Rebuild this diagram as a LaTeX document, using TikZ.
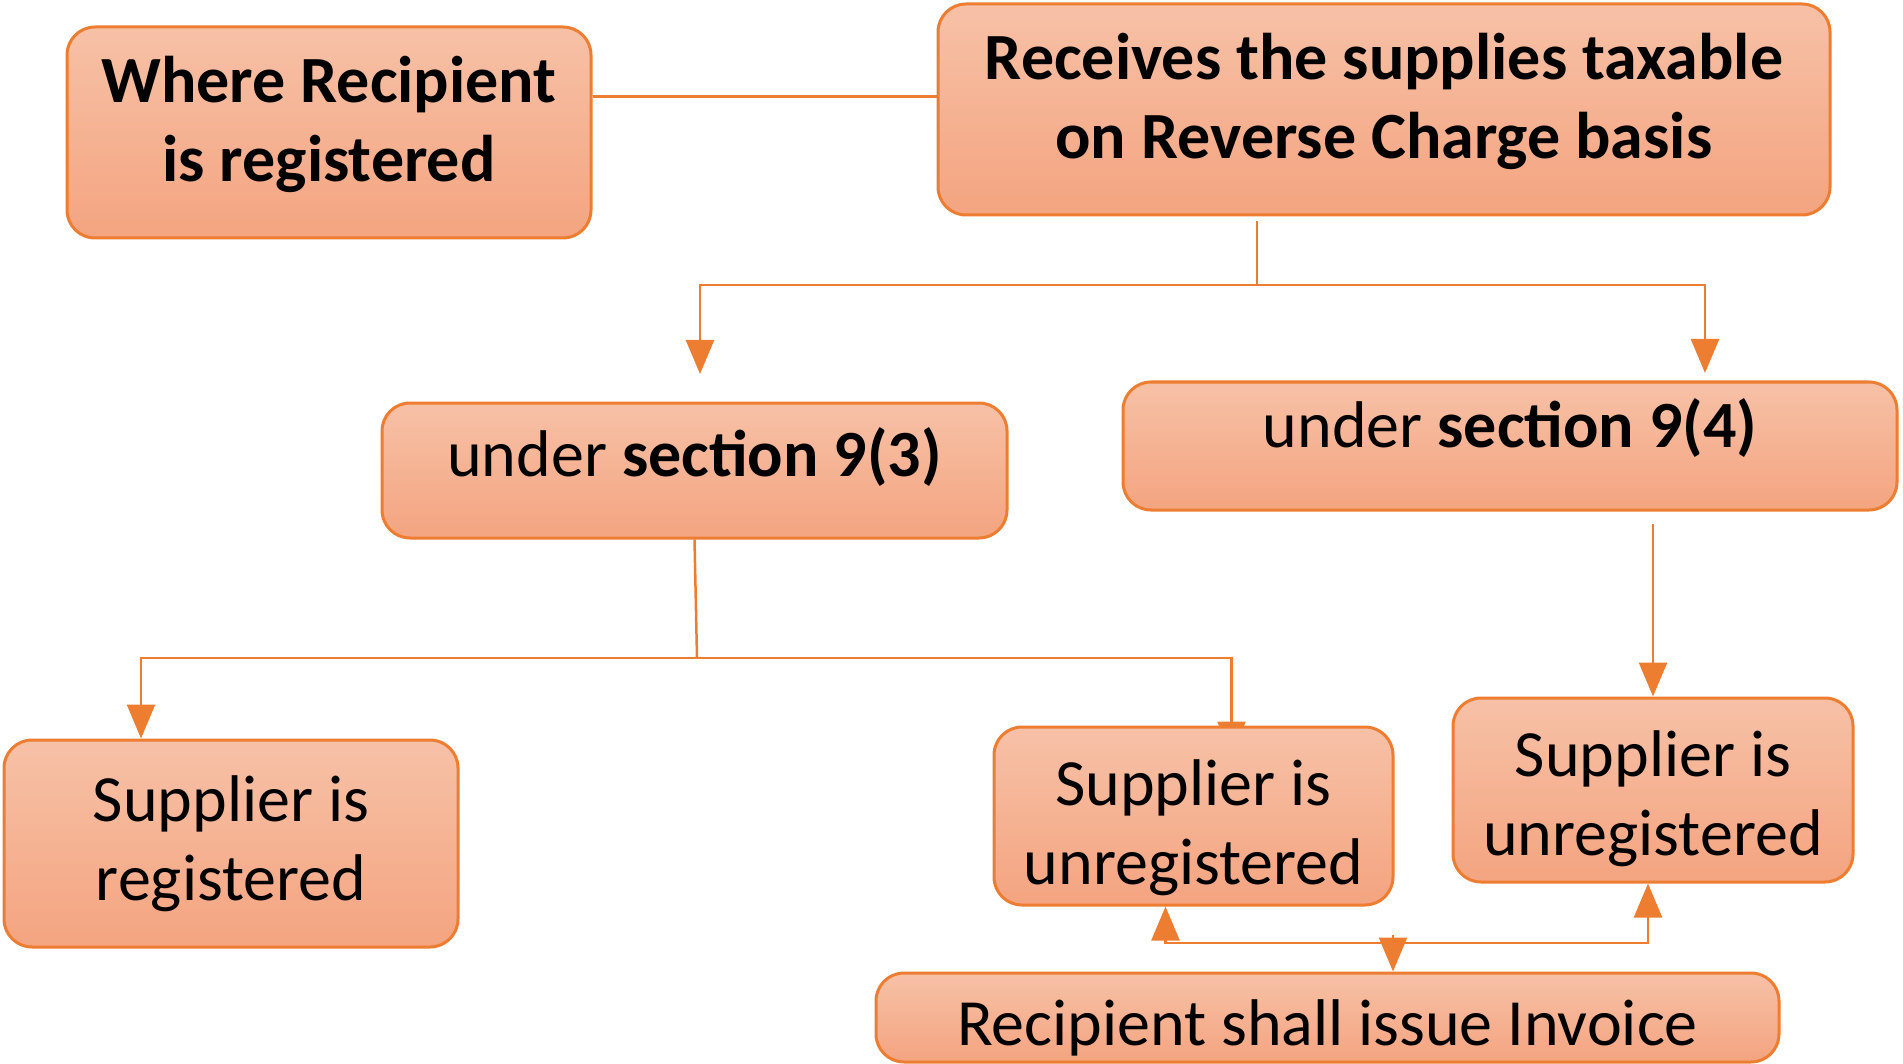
\documentclass[tikz,border=0pt]{standalone}
\usepackage{fontspec}
\setmainfont{Carlito}
\usepackage{tikz}
\usetikzlibrary{arrows.meta,backgrounds}

\definecolor{rcorange}{HTML}{ED7D31}
\definecolor{rctop}{RGB}{247,193,167}
\definecolor{rcbot}{RGB}{244,164,128}
\newcommand{\boxfont}{\fontsize{66}{79}\selectfont}

\begin{document}
\begin{tikzpicture}[x=1pt,y=-1pt,
  box/.style={draw=rcorange, line width=3pt, rounded corners=28pt,
    top color=rctop, bottom color=rcbot, align=center, inner sep=0pt,
    font=\boxfont},
  boldbox/.style={box, font=\boxfont\bfseries},
  conn/.style={draw=rcorange, line width=2.5pt},
  arr/.style={conn, -{Triangle[width=28pt,length=34pt]}}]
\useasboundingbox (0,0) rectangle (1903,1064);

% top row
\node[boldbox, minimum width=524pt, minimum height=211pt] (recip) at (329,132.5) {Where Recipient\\is registered\rule[-28pt]{0pt}{28pt}};
\node[boldbox, minimum width=892pt, minimum height=211pt] (rcm) at (1384,109.5) {Receives the supplies taxable\\on Reverse Charge basis\rule[-28pt]{0pt}{28pt}};

% sections
\node[box, minimum width=625pt, minimum height=135pt, text height=30pt, text depth=18pt] (sec93) at (694.5,470.5) {under \textbf{section 9(3)}};
\node[box, minimum width=774pt, minimum height=128pt, text height=26pt, text depth=24pt] (sec94) at (1510,446) {under \textbf{section 9(4)}};

% suppliers
\node[box, minimum width=454pt, minimum height=207pt] (supreg) at (231,843.5) {Supplier is\\registered};
\node[box, minimum width=399pt, minimum height=178pt] (supunA) at (1193.5,816) {\rule{0pt}{69pt}Supplier is\\unregistered};
\node[box, minimum width=400pt, minimum height=184pt] (supunB) at (1653,790) {\rule{0pt}{63pt}Supplier is\\unregistered};
\node[box, minimum width=903pt, minimum height=89pt, text height=60pt, text depth=5pt] (invoice) at (1327.5,1017.5) {Recipient shall issue Invoice};

% connectors
\begin{scope}[on background layer]
\draw[conn] ([yshift=36pt]recip.east) -- ([yshift=36pt]recip.east -| rcm.west);

\coordinate (split1) at (1257,285);
\coordinate (tip93) at (700,374);
\coordinate (tip94) at (1705,373);
\draw[conn] ([yshift=-5pt]rcm.south -| split1) -- (split1);
\draw[arr] (split1) -| (tip93);
\draw[arr] (split1) -| (tip94);

\coordinate (split2) at (697,658);
\draw[conn] (sec93.south) -- (split2);
\draw[arr] (split2) -| ([xshift=-90pt]supreg.north);
\draw[arr] (split2) -| ([xshift=38pt,yshift=-30pt]supunA.north);

\draw[arr] ([yshift=-12pt]sec94.south -| supunB.north) -- (supunB.north);

\coordinate (split3) at (1393,943);
\draw[arr] (split3) -| ([xshift=-28pt]supunA.south);
\draw[arr] (split3) -| ([xshift=-5pt]supunB.south);
\draw[arr] ([yshift=8pt]split3) -- (split3 |- invoice.north);
\end{scope}
\end{tikzpicture}
\end{document}
